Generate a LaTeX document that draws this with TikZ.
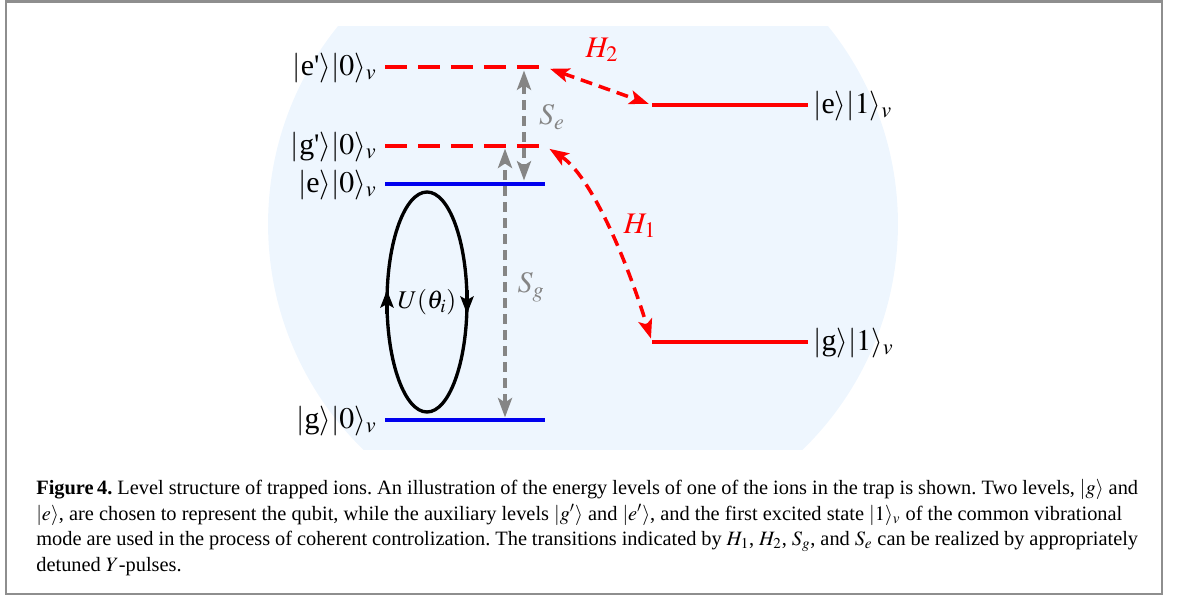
\documentclass[tikz,border=0pt]{standalone}
\usepackage{mathptmx}
\usepackage{fontspec}
\setmainfont{Liberation Serif}
\definecolor{LevelRed}{HTML}{FF0000}
\definecolor{LevelBlue}{HTML}{0000EE}
\definecolor{ShiftGray}{HTML}{858585}
\definecolor{TrapBlue}{HTML}{EEF6FE}
\definecolor{FrameGray}{HTML}{8E8E8E}
\usetikzlibrary{arrows.meta}

\begin{document}
\begin{tikzpicture}[x=0.02cm, y=-0.02cm,
  statelevel/.style={line width=2.2pt},
  auxlevel/.style={statelevel, LevelRed, dash pattern=on 0.44cm off 0.22cm},
  ketlabel/.style={font=\fontsize{17}{20}\selectfont, inner sep=0pt},
  shiftarrow/.style={ShiftGray, line width=2pt, dash pattern=on 0.2cm off 0.12cm, {Stealth[length=11pt, width=8pt, inset=2.5pt]}-{Stealth[length=11pt, width=8pt, inset=2.5pt]}},
  drivearrow/.style={LevelRed, line width=2pt, dash pattern=on 0.24cm off 0.14cm, {Stealth[length=11pt, width=8pt, inset=2.5pt]}-{Stealth[length=11pt, width=8pt, inset=2.5pt]}},
  loopline/.style={line width=1.9pt},
  looptip/.style={line width=1.9pt, -{Stealth[length=10pt, width=7.5pt, inset=2pt]}}]
  \useasboundingbox (0,0) rectangle (1179,597);
  % trap background
  \begin{scope}
    \clip (0,27) rectangle (1179,449);
    \fill[TrapBlue] (583,224) circle [radius=6.3cm];
  \end{scope}
  % frame
  \draw[FrameGray, line width=1.2pt] (6,1.5) rectangle (1162,594);

  % level ends
  \coordinate (ep-l) at (385,67);  \coordinate (ep-r) at (545,67);
  \coordinate (gp-l) at (385,146); \coordinate (gp-r) at (545,146);
  \coordinate (e0-l) at (385,184); \coordinate (e0-r) at (545,184);
  \coordinate (g0-l) at (385,420); \coordinate (g0-r) at (545,420);
  \coordinate (e1-l) at (652,105); \coordinate (e1-r) at (808,105);
  \coordinate (g1-l) at (652,342); \coordinate (g1-r) at (808,342);

  % levels
  \draw[auxlevel] (ep-l) -- (ep-r);
  \draw[auxlevel] (gp-l) -- (gp-r);
  \draw[statelevel, LevelBlue] (e0-l) -- (e0-r);
  \draw[statelevel, LevelBlue] (g0-l) -- (g0-r);
  \draw[statelevel, LevelRed] (e1-l) -- (e1-r);
  \draw[statelevel, LevelRed] (g1-l) -- (g1-r);

  % level labels
  \node[ketlabel, anchor=east] (ep-lab) at (377,68) {$|$e\textquotesingle$\rangle|0\rangle_v$};
  \node[ketlabel, anchor=east] (gp-lab) at (377,147) {$|$g\textquotesingle$\rangle|0\rangle_v$};
  \node[ketlabel, anchor=east] (e0-lab) at (377,185) {$|$e$\rangle|0\rangle_v$};
  \node[ketlabel, anchor=east] (g0-lab) at (377,421) {$|$g$\rangle|0\rangle_v$};
  \node[ketlabel, anchor=west] (e1-lab) at (813,106) {$|$e$\rangle|1\rangle_v$};
  \node[ketlabel, anchor=west] (g1-lab) at (813,343) {$|$g$\rangle|1\rangle_v$};

  % shifts
  \coordinate (sg-lo) at (505,420); \coordinate (sg-hi) at (505,146);
  \coordinate (se-lo) at (524,184); \coordinate (se-hi) at (524,67);
  \draw[shiftarrow, shorten <=1.5pt, shorten >=1.5pt] (sg-lo) -- (sg-hi);
  \draw[shiftarrow, shorten <=2pt, shorten >=2pt] (se-hi) -- (se-lo);
  \node[ketlabel, ShiftGray] (sg-lab) at (531,287) {$S_g$};
  \node[ketlabel, ShiftGray] (se-lab) at (552,117) {$S_e$};

  % drives
  \draw[drivearrow, shorten <=3pt, shorten >=2pt] (ep-r) -- (e1-l);
  \draw[drivearrow, shorten <=3pt, shorten >=2pt] (gp-r) .. controls (590,175) and (625,255) .. (g1-l);
  \node[ketlabel, LevelRed] (h2-lab) at (602,50) {$H_2$};
  \node[ketlabel, LevelRed] (h1-lab) at (640,226) {$H_1$};

  % qubit rotation
  \draw[loopline] (427,302) ellipse [x radius=40, y radius=110];
  \draw[looptip] (387,314) -- (387,290);
  \draw[looptip] (467,290) -- (467,314);
  \node[ketlabel, font=\fontsize{14.5}{17}\selectfont] (u-lab) at (427,302) {$U(\theta_i)$};

  % caption
  \node[anchor=north west, inner sep=0pt, text width=22.04cm, align=justify, font=\fontsize{11.6}{14.6}\selectfont\frenchspacing] (caption) at (36,479)
    {\textbf{Figure\,4.} Level structure of trapped ions. An illustration of the energy levels of one of the ions in the trap is shown. Two levels, $|g\rangle$ and\linebreak
     $|e\rangle$, are chosen to represent the qubit, while the auxiliary levels $|g'\rangle$ and $|e'\rangle$, and the first excited state $|1\rangle_v$ of the common vibrational\newline
     mode are used in the process of coherent controlization. The transitions indicated by $H_1$, $H_2$, $S_g$, and $S_e$ can be realized by appropriately\linebreak
     detuned $Y$-pulses.};
\end{tikzpicture}
\end{document}
